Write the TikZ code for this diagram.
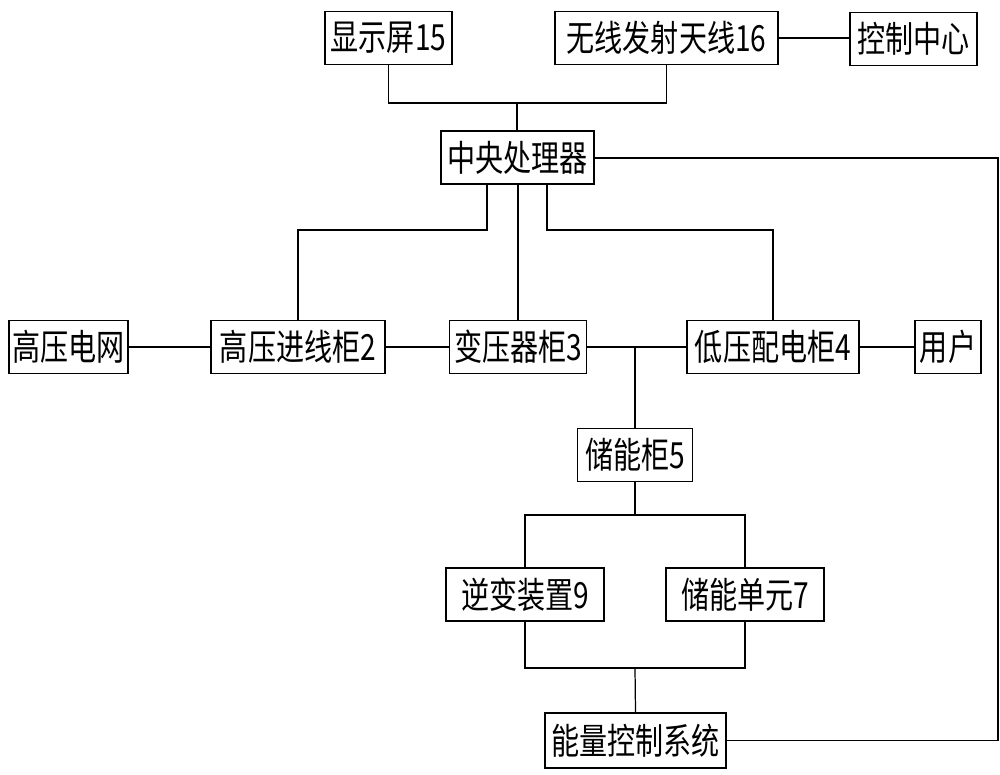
\documentclass[tikz,border=0pt]{standalone}
\usepackage{fontspec}
\newfontfamily\cjk[FakeStretch=0.78]{Noto Sans CJK SC}
\begin{document}
\begin{tikzpicture}[x=0.02cm,y=-0.02cm,
  box/.style={draw, line width=0.8pt, inner sep=0pt, minimum height=1.06cm, font=\cjk\fontsize{20.5}{24}\selectfont},
  wire/.style={line width=0.7pt}]
\useasboundingbox (0,0) rectangle (1000,774);
\node[box, minimum width=2.54cm] (disp) at (388.5,38) {显示屏15};
\node[box, minimum width=4.46cm] (wifi) at (666.5,38) {无线发射天线16};
\node[box, minimum width=2.54cm] (ctrl) at (913.5,39) {控制中心};
\node[box, minimum width=3.06cm] (cpu) at (517.5,157.5) {中央处理器};
\node[box, minimum width=2.38cm] (grid) at (68.5,347) {高压电网};
\node[box, minimum width=3.48cm] (hv) at (298,347) {高压进线柜2};
\node[box, minimum width=2.74cm] (tr) at (518,347) {变压器柜3};
\node[box, minimum width=3.44cm] (lv) at (773,347) {低压配电柜4};
\node[box, minimum width=1.32cm] (user) at (948,347) {用户};
\node[box, minimum width=2.30cm] (store) at (635,455) {储能柜5};
\node[box, minimum width=3.16cm] (inv) at (525,594.5) {逆变装置9};
\node[box, minimum width=3.16cm] (unit) at (745,594.5) {储能单元7};
\node[box, minimum width=3.62cm, minimum height=1.10cm] (ems) at (635.5,740.5) {能量控制系统};
\coordinate (j1) at (635,347);
\coordinate (rc) at (998,158);
% top connections
\draw[wire] (disp.south) |- (517,103) -| (wifi.south);
\draw[wire] (517,103) -- (cpu.north -| 517,0);
\draw[wire] (wifi.east) -- (wifi.east -| ctrl.west);
% cpu to cabinets
\draw[wire] (cpu.south -| 487,0) |- (298,230) -- (hv.north);
\draw[wire] (cpu.south -| 518,0) -- (tr.north);
\draw[wire] (cpu.south -| 547,0) |- (773,230) -- (lv.north);
% cpu to ems
\draw[wire] (cpu.east |- rc) -- (rc) |- (ems.east);
% main line
\draw[wire] (grid) -- (hv);
\draw[wire] (hv) -- (tr);
\draw[wire] (tr) -- (lv);
\draw[wire] (lv) -- (user);
\draw[wire] (j1) -- (store.north);
% storage branches
\draw[wire] (store.south) -- (635,515);
\draw[wire] (inv.north) |- (745,515) -- (unit.north);
\draw[wire] (inv.south) |- (745,668) -- (unit.south);
\draw[wire] (635,668) -- (ems.north);
\end{tikzpicture}
\end{document}
